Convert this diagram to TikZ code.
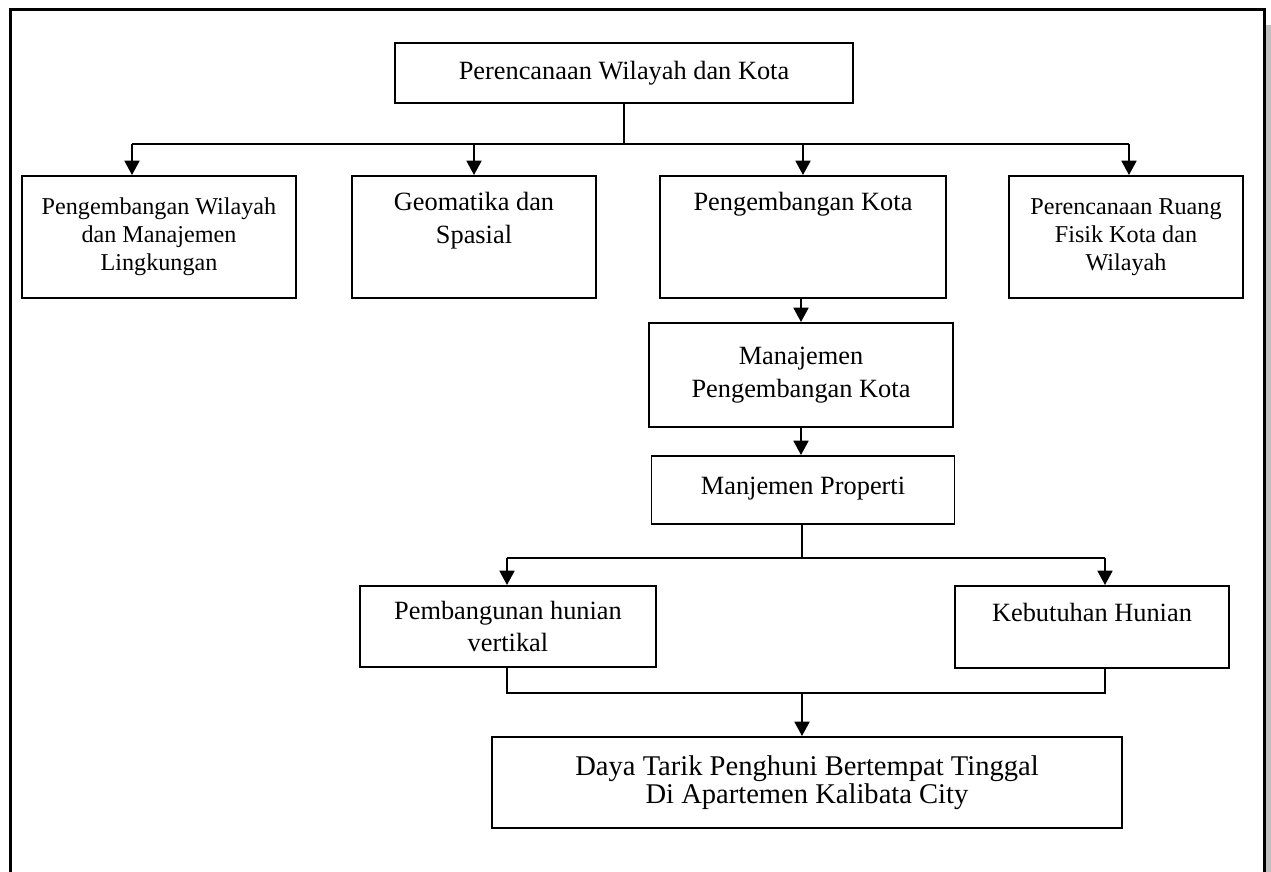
\documentclass[tikz,border=0pt]{standalone}
\usepackage{fontspec}
\setmainfont{Liberation Serif}
\usetikzlibrary{arrows.meta, positioning}

\begin{document}
\begin{tikzpicture}[x=0.16mm, y=-0.16mm,
        kotak/.style={draw, line width=0.9pt, align=center, inner sep=0pt, font=\fontsize{12}{15}\selectfont},
        kecil/.style={font=\fontsize{11}{12.75}\selectfont},
        besar/.style={font=\fontsize{13}{12.5}\selectfont},
        teks/.style={align=center, inner sep=0pt, font=\fontsize{12}{15}\selectfont},
        garis/.style={line width=0.9pt},
        panah/.style={line width=0.9pt, -{Triangle[length=6.5pt, width=6.8pt]}}]

        \useasboundingbox (0,0) rectangle (1271,872);
        \clip (0,0) rectangle (1271,872);

        % ==========================================
        % CORNICE: bordo esterno con ombra a destra
        % ==========================================
        \fill[gray!50] (1265.7,25) rectangle (1272,900);
        \draw[line width=1.1pt] (10.5,9.3) rectangle (1264.5,900);

        % ==========================================
        % LIVELLO 1: riquadro principale
        % ==========================================
        \node[kotak, minimum width=73.28mm, minimum height=9.6mm] (pwk) at (624,73) {Perencanaan Wilayah dan Kota};

        % ==========================================
        % LIVELLO 2: le quattro specializzazioni
        % ==========================================
        \node[kotak, kecil, minimum width=43.84mm, minimum height=19.52mm] (pwml) at (159,237)
            {Pengembangan Wilayah\\dan Manajemen\\Lingkungan};
        \node[kotak, minimum width=39.04mm, minimum height=19.52mm] (geo) at (474,237) {};
        \node[kotak, minimum width=45.76mm, minimum height=19.52mm] (pk) at (803,237) {};
        \node[kotak, kecil, minimum width=37.44mm, minimum height=19.52mm] (prf) at (1126,237)
            {Perencanaan Ruang\\Fisik Kota dan\\Wilayah};

        % testo in alto nei riquadri (non centrato)
        \node[teks, below=2.7mm of geo.north] (geo-t) {Geomatika dan\\Spasial};
        \node[teks, below=2.7mm of pk.north] (pk-t) {Pengembangan Kota};

        % linea comune e frecce verso il livello 2
        \coordinate (bus1) at (624,144);
        \coordinate (t1) at (132,144);
        \coordinate (t4) at (1129,144);
        \draw[garis] (pwk.south) -- (bus1);
        \draw[garis] (t1) -- (t4);
        \draw[panah] (t1) -- (t1 |- pwml.north);
        \draw[panah] (geo.north |- bus1) -- (geo.north);
        \draw[panah] (pk.north |- bus1) -- (pk.north);
        \draw[panah] (t4) -- (t4 |- prf.north);

        % ==========================================
        % CENTRO: catena verticale
        % ==========================================
        \node[kotak, minimum width=48.64mm, minimum height=16.64mm] (mpk) at (801,375)
            {Manajemen\\Pengembangan Kota};
        \node[kotak, text depth=0.4em, minimum width=48.48mm, minimum height=10.88mm] (mp) at (803,490) {Manjemen Properti};

        \draw[panah] (mpk.north |- pk.south) -- (mpk.north);
        \draw[panah] (mpk.south) -- (mpk.south |- mp.north);

        % ==========================================
        % LIVELLO 3: hunian
        % ==========================================
        \node[kotak, minimum width=47.36mm, minimum height=12.96mm] (phv) at (508,626.5)
            {Pembangunan hunian\\vertikal};
        \node[kotak, minimum width=43.84mm, minimum height=13.12mm] (kh) at (1092,627) {};
        \node[teks, below=2.9mm of kh.north] (kh-t) {Kebutuhan Hunian};

        \coordinate (bus2) at (802,558);
        \coordinate (t5) at (507,558);
        \coordinate (t6) at (1105,558);
        \draw[garis] (bus2 |- mp.south) -- (bus2);
        \draw[garis] (t5) -- (t6);
        \draw[panah] (t5) -- (t5 |- phv.north);
        \draw[panah] (t6) -- (t6 |- kh.north);

        % ==========================================
        % BASSO: risultato finale
        % ==========================================
        \node[kotak, besar, minimum width=100.8mm, minimum height=14.56mm] (dt) at (807,782.5)
            {Daya Tarik Penghuni Bertempat Tinggal\\Di Apartemen Kalibata City};

        \coordinate (j1) at (507,693);
        \coordinate (j2) at (1105,693);
        \coordinate (bus3) at (802,693);
        \draw[garis] (t5 |- phv.south) -- (j1) -- (j2) -- (t6 |- kh.south);
        \draw[panah] (bus3) -- (bus3 |- dt.north);

    \end{tikzpicture}
\end{document}
